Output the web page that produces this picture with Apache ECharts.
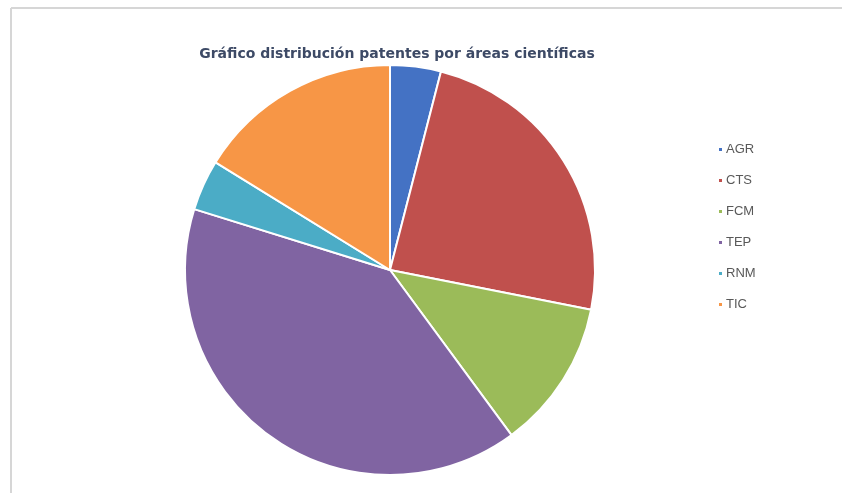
<!DOCTYPE html>
<html>
<head>
<meta charset="utf-8">
<script src="https://cdn.jsdelivr.net/npm/echarts@6/dist/echarts.min.js"></script>
<style>html,body{margin:0;padding:0;background:#fff;}#c{width:842px;height:493px;}</style>
</head>
<body>
<div id="c"></div>
<script>
var titleText = 'Gráfico distribución patentes por áreas científicas';
var categories = ['AGR', 'CTS', 'FCM', 'TEP', 'RNM', 'TIC'];
var values = [4.0, 24.1, 11.8, 39.9, 4.0, 16.2];
var colors = ['#4472C4', '#C0504D', '#9BBB59', '#8064A2', '#4BACC6', '#F79646'];

var chart = echarts.init(document.getElementById('c'), null, {renderer: 'canvas'});
chart.setOption({
  backgroundColor: '#ffffff',
  animation: false,
  title: {
    text: titleText,
    left: 392, top: 42, textAlign: 'center',
    textStyle: {fontFamily: 'DejaVu Sans, sans-serif', fontSize: 14, fontWeight: 'bold', color: '#3d4a66'}
  },
  graphic: [
    {type: 'line', shape: {x1: 11, y1: 8, x2: 842, y2: 8}, style: {stroke: '#d6d6d6', lineWidth: 2}, silent: true},
    {type: 'line', shape: {x1: 11, y1: 8, x2: 11, y2: 493}, style: {stroke: '#d6d6d6', lineWidth: 2}, silent: true}
  ],
  legend: {
    orient: 'vertical',
    left: 712, top: 138,
    itemWidth: 5, itemHeight: 5, itemGap: 18,
    icon: 'rect',
    data: categories,
    textStyle: {fontFamily: 'Liberation Sans, Arial, sans-serif', fontSize: 13, color: '#595959', padding: [0,0,0,-2]}
  },
  series: [{
    type: 'pie',
    center: [390, 270],
    radius: [0, 205],
    startAngle: 90,
    clockwise: true,
    label: {show: false},
    labelLine: {show: false},
    itemStyle: {borderColor: '#ffffff', borderWidth: 2},
    data: categories.map(function (c, i) {
      return {name: c, value: values[i], itemStyle: {color: colors[i]}};
    })
  }]
});
</script>
</body>
</html>
